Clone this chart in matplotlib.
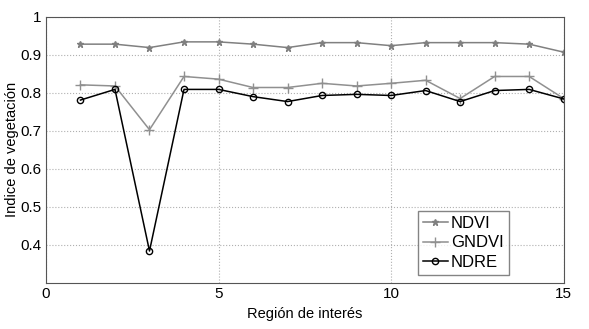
import numpy as np
import matplotlib
matplotlib.use("Agg")
import matplotlib.pyplot as plt

plt.rcParams['font.family'] = ['Liberation Sans', 'DejaVu Sans']

region = np.arange(1, 16)
ndvi = [0.928, 0.928, 0.919, 0.934, 0.934, 0.928, 0.919, 0.932, 0.932, 0.924,
        0.932, 0.932, 0.932, 0.928, 0.907]
gndvi = [0.821, 0.818, 0.703, 0.843, 0.836, 0.814, 0.814, 0.825, 0.818, 0.825,
         0.833, 0.785, 0.843, 0.843, 0.785]
ndre = [0.781, 0.809, 0.384, 0.809, 0.809, 0.790, 0.777, 0.793, 0.796, 0.793,
        0.806, 0.777, 0.806, 0.809, 0.784]

fig = plt.figure(figsize=(5.89, 3.29), dpi=100)
ax = fig.add_axes([0.078, 0.14, 0.879, 0.809])

ax.plot(region, ndvi, color='#808080', marker='*', markersize=4.5, lw=1.1, label='NDVI')
ax.plot(region, gndvi, color='#909090', marker='+', markersize=6.5, lw=1.1, label='GNDVI')
ax.plot(region, ndre, color='black', marker='o', markersize=4.5, mfc='none', lw=1.1, label='NDRE')

ax.set_xlim(0, 15)
ax.set_ylim(0.3, 1.0)
ax.set_xticks([0, 5, 10, 15])
ax.set_yticks([0.4, 0.5, 0.6, 0.7, 0.8, 0.9, 1.0])
ax.set_yticklabels(['0.4', '0.5', '0.6', '0.7', '0.8', '0.9', '1'])
ax.tick_params(labelsize=11, length=0, pad=3)
ax.grid(True, ls=':', color='#b0b0b0', lw=0.8)
for s in ax.spines.values():
    s.set_color('#555555')

ax.set_xlabel('Región de interés', fontsize=10.5)
ax.set_ylabel('Indice de vegetación', fontsize=10.5)
ax.yaxis.set_label_coords(-0.053, 0.5)

leg = ax.legend(loc='lower right', bbox_to_anchor=(0.91, 0.0), fontsize=12,
                fancybox=False, edgecolor='#666666', handlelength=1.5,
                handletextpad=0.2, borderpad=0.3, labelspacing=0.25)
leg.get_frame().set_linewidth(1.0)

fig.savefig('out.png', dpi=100)
